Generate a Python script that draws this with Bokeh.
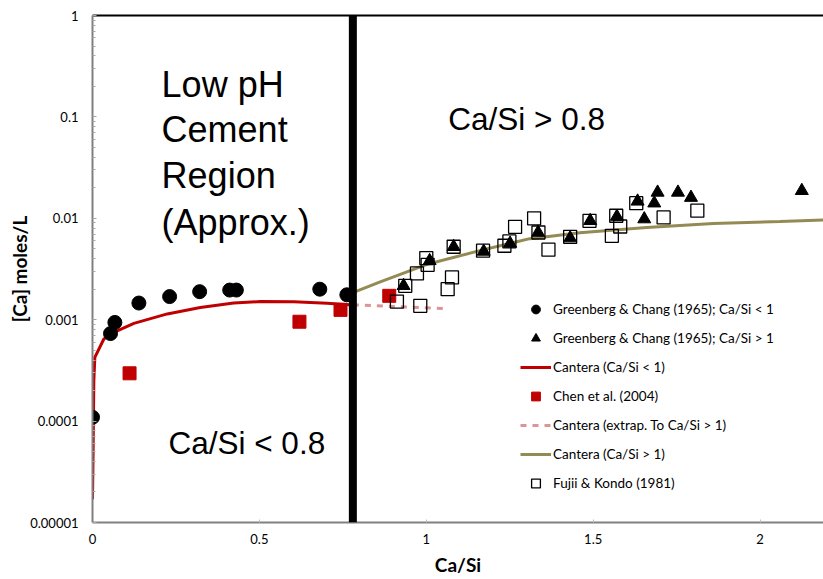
from bokeh.plotting import figure
from bokeh.models import (Span, Label, Legend, LegendItem, FixedTicker,
                          CustomJSTickFormatter, LinearAxis, Range1d)
from bokeh.embed import file_html
from bokeh.resources import INLINE

# ---------------- data ----------------
# Greenberg & Chang (1965); Ca/Si < 1
gc_low_x = [0.0, 0.054, 0.067, 0.139, 0.231, 0.321, 0.411, 0.431, 0.681, 0.762]
gc_low_y = [1.09e-4, 7.3e-4, 9.4e-4, 1.46e-3, 1.69e-3, 1.89e-3, 1.96e-3, 1.96e-3, 2.0e-3, 1.76e-3]

# Greenberg & Chang (1965); Ca/Si > 1
gc_high_x = [0.932, 1.010, 1.082, 1.172, 1.251, 1.335, 1.431, 1.491, 1.571, 1.633,
             1.653, 1.683, 1.693, 1.754, 1.793, 2.125]
gc_high_y = [2.16e-3, 3.81e-3, 5.24e-3, 4.71e-3, 5.65e-3, 7.24e-3, 6.38e-3, 9.45e-3, 1.04e-2, 1.47e-2,
             9.83e-3, 1.41e-2, 1.80e-2, 1.80e-2, 1.60e-2, 1.87e-2]

# Cantera (Ca/Si < 1)
cant_low_x = [0.0, 0.002, 0.004, 0.007, 0.034, 0.064, 0.124, 0.224, 0.323, 0.423, 0.503, 0.603, 0.703, 0.78]
cant_low_y = [1.7e-5, 5.5e-5, 2.5e-4, 4.25e-4, 6.45e-4, 7.5e-4, 9.2e-4, 1.14e-3, 1.32e-3, 1.46e-3,
              1.51e-3, 1.50e-3, 1.45e-3, 1.40e-3]

# Chen et al. (2004)
chen_x = [0.111, 0.62, 0.743, 0.889]
chen_y = [2.96e-4, 9.55e-4, 1.25e-3, 1.72e-3]

# Cantera (extrap. To Ca/Si > 1)
extrap_x = [0.78, 0.9, 1.05]
extrap_y = [1.40e-3, 1.35e-3, 1.29e-3]

# Cantera (Ca/Si > 1)
cant_high_x = [0.78, 0.86, 1.0, 1.16, 1.31, 1.46, 1.66, 1.86, 2.06, 2.19]
cant_high_y = [1.85e-3, 2.35e-3, 3.5e-3, 4.8e-3, 6.3e-3, 7.2e-3, 8.1e-3, 8.9e-3, 9.3e-3, 9.6e-3]

# Fujii & Kondo (1981)
fk_x = [0.912, 0.937, 0.972, 1.0, 1.004, 0.982, 1.064, 1.077, 1.082, 1.170, 1.234, 1.249,
        1.266, 1.323, 1.336, 1.366, 1.431, 1.489, 1.556, 1.569, 1.581, 1.629, 1.711, 1.812]
fk_y = [1.51e-3, 2.16e-3, 2.86e-3, 4.05e-3, 3.48e-3, 1.37e-3, 2.0e-3, 2.61e-3, 5.24e-3, 4.79e-3,
        5.36e-3, 5.91e-3, 8.24e-3, 1.0e-2, 7.24e-3, 4.9e-3, 6.57e-3, 9.45e-3, 6.72e-3, 1.06e-2,
        8.3e-3, 1.41e-2, 1.02e-2, 1.19e-2]

boundary_x = 0.78

x_ticks = [0, 0.5, 1, 1.5, 2]
y_ticks = [1e-5, 1e-4, 1e-3, 1e-2, 1e-1, 1]
y_tick_labels = ["0.00001", "0.0001", "0.001", "0.01", "0.1", "1"]

legend_labels = ["Greenberg & Chang (1965); Ca/Si < 1",
                 "Greenberg & Chang (1965); Ca/Si > 1",
                 "Cantera (Ca/Si < 1)",
                 "Chen et al. (2004)",
                 "Cantera (extrap. To Ca/Si > 1)",
                 "Cantera (Ca/Si > 1)",
                 "Fujii & Kondo (1981)"]

RED = "#C00000"
PINK = "#D99694"
OLIVE = "#948A54"
UI_FONT = "Lato"
BIG_FONT = "Liberation Sans"

# ---------------- figure ----------------
p = figure(width=823, height=579, output_backend="svg", toolbar_location=None,
           x_range=Range1d(0, 2.19), y_range=Range1d(1e-5, 1), y_axis_type="log",
           min_border_left=92, min_border_right=0, min_border_top=15, min_border_bottom=57)
p.outline_line_color = None
p.xgrid.visible = False
p.ygrid.visible = False
p.background_fill_color = "white"
p.border_fill_color = "white"

# lines
r_cl = p.line(cant_low_x, cant_low_y, line_color=RED, line_width=3)
r_ex = p.line(extrap_x, extrap_y, line_color=PINK, line_width=3, line_dash="6 6")
r_ch = p.line(cant_high_x, cant_high_y, line_color=OLIVE, line_width=3)

# markers
r_chen = p.scatter(chen_x, chen_y, marker="square", size=13, fill_color=RED, line_color=RED)
r_fk = p.scatter(fk_x, fk_y, marker="square", size=13, fill_color=None, line_color="black", line_width=1.3)
r_gl = p.scatter(gc_low_x, gc_low_y, marker="circle", size=14, fill_color="black", line_color="black")
r_gh = p.scatter(gc_high_x, gc_high_y, marker="triangle", size=13, fill_color="black", line_color="black")

# boundary
p.add_layout(Span(location=boundary_x, dimension="height", line_color="black", line_width=8))

# axes
xa = p.xaxis[0]
xa.ticker = FixedTicker(ticks=x_ticks)
xa.axis_line_color = "#808080"
xa.axis_line_width = 2
xa.major_tick_in = 3
xa.major_tick_out = 0
xa.major_tick_line_color = "#BFBFBF"
xa.minor_tick_line_color = None
xa.major_label_text_font = UI_FONT
xa.major_label_text_font_size = "13px"
xa.major_label_text_color = "#000000"
xa.major_label_standoff = 11
xa.axis_label = "Ca/Si"
xa.axis_label_text_font = UI_FONT
xa.axis_label_text_font_style = "bold"
xa.axis_label_text_font_size = "19px"
xa.axis_label_text_color = "#000000"
xa.axis_label_standoff = 6

ya = p.yaxis[0]
ya.ticker = FixedTicker(ticks=y_ticks,
                        minor_ticks=[m * t for t in y_ticks[:-1] for m in range(2, 10)])
ya.formatter = CustomJSTickFormatter(args=dict(tv=y_ticks, tl=y_tick_labels), code="""
let best = 0, d = Infinity;
for (let i = 0; i < tv.length; i++) {
  const e = Math.abs(Math.log10(tick) - Math.log10(tv[i]));
  if (e < d) { d = e; best = i; }
}
return tl[best];
""")
ya.axis_line_color = "#808080"
ya.axis_line_width = 2
ya.major_tick_in = 4
ya.major_tick_out = 0
ya.minor_tick_in = 3
ya.minor_tick_out = 0
ya.major_tick_line_color = "#A6A6A6"
ya.minor_tick_line_color = "#A6A6A6"
ya.major_label_text_font = UI_FONT
ya.major_label_text_font_size = "13px"
ya.major_label_text_color = "#000000"
ya.major_label_standoff = 14
ya.axis_label = "[Ca] moles/L"
ya.axis_label_text_font = UI_FONT
ya.axis_label_text_font_style = "bold"
ya.axis_label_text_font_size = "19px"
ya.axis_label_text_color = "#000000"
ya.axis_label_standoff = -4

top = LinearAxis(ticker=FixedTicker(ticks=[]), axis_line_color="black", axis_line_width=2,
                 major_tick_in=0, major_tick_out=0, minor_tick_in=0, minor_tick_out=0,
                 major_label_text_font_size="0px", major_label_standoff=0)
p.add_layout(top, "above")

# annotations
for txt, yy in zip(["Low pH", "Cement", "Region", "(Approx.)"], [0.211, 0.0745, 0.0262, 0.00904]):
    p.add_layout(Label(x=0.207, y=yy, text=txt, text_font=BIG_FONT, text_font_size="36px",
                       text_baseline="alphabetic", text_color="black"))
p.add_layout(Label(x=1.066, y=0.0955, text="Ca/Si > 0.8", text_font=BIG_FONT,
                   text_font_size="31.5px", text_baseline="alphabetic", text_color="black"))
p.add_layout(Label(x=0.2275, y=6.14e-5, text="Ca/Si < 0.8", text_font=BIG_FONT,
                   text_font_size="31.5px", text_baseline="alphabetic", text_color="black"))

# legend
renderers = [r_gl, r_gh, r_cl, r_chen, r_ex, r_ch, r_fk]
legend = Legend(items=[LegendItem(label=l, renderers=[r]) for l, r in zip(legend_labels, renderers)],
                location=(428, 28), orientation="vertical",
                glyph_width=31, glyph_height=22, label_height=22, spacing=7,
                label_standoff=2, padding=0, margin=0,
                border_line_color=None, background_fill_alpha=0,
                label_text_font=UI_FONT, label_text_font_size="13.5px", label_text_color="#000000")
p.add_layout(legend)

open("out.html", "w").write(file_html(p, INLINE))
